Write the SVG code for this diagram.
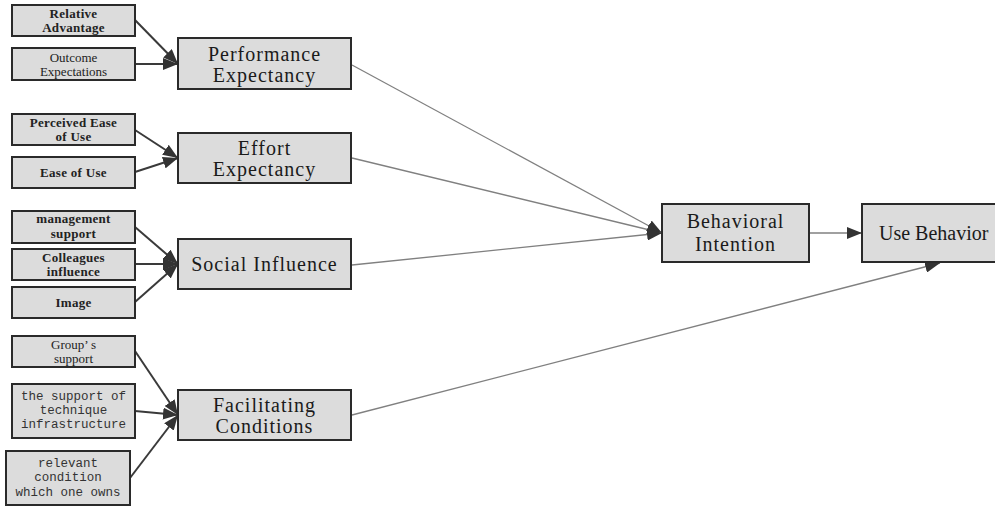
<svg xmlns="http://www.w3.org/2000/svg" width="995" height="506" viewBox="0 0 995 506">
<defs>
<marker id="ah" markerUnits="userSpaceOnUse" markerWidth="16" markerHeight="12" refX="15" refY="6" orient="auto">
<path d="M0,0 L15,6 L0,12 z" fill="#333"/>
</marker>
<style>
.box{fill:#dcdcdc;stroke:#2a2a2a;stroke-width:2}
.sm{font-family:"Liberation Serif",serif;font-size:13px;font-weight:bold;fill:#222;text-anchor:middle;letter-spacing:0.3px}
.smr{font-family:"Liberation Serif",serif;font-size:13px;fill:#222;text-anchor:middle}
.mono{font-family:"Liberation Mono",monospace;font-size:12.5px;fill:#333;text-anchor:middle}
.big{font-family:"Liberation Serif",serif;font-size:20px;fill:#1a1a1a;text-anchor:middle;letter-spacing:1px}
.in{stroke:#3a3a3a;stroke-width:2;fill:none}
.out{stroke:#808080;stroke-width:1.3;fill:none}
</style>
</defs>
<rect width="995" height="506" fill="#fff"/>
<g id="connectors">
<line class="in" x1="135" y1="20" x2="178" y2="64" marker-end="url(#ah)"/>
<line class="in" x1="135" y1="64" x2="178" y2="64" marker-end="url(#ah)"/>
<line class="in" x1="135" y1="130" x2="178" y2="158" marker-end="url(#ah)"/>
<line class="in" x1="135" y1="172" x2="178" y2="158" marker-end="url(#ah)"/>
<line class="in" x1="135" y1="227" x2="178" y2="264" marker-end="url(#ah)"/>
<line class="in" x1="135" y1="264" x2="178" y2="264" marker-end="url(#ah)"/>
<line class="in" x1="135" y1="302" x2="178" y2="264" marker-end="url(#ah)"/>
<line class="in" x1="135" y1="351" x2="178" y2="415" marker-end="url(#ah)"/>
<line class="in" x1="135" y1="411" x2="178" y2="415" marker-end="url(#ah)"/>
<line class="in" x1="130" y1="478" x2="178" y2="415" marker-end="url(#ah)"/>
<line class="out" x1="352" y1="65" x2="662" y2="233" marker-end="url(#ah)"/>
<line class="out" x1="352" y1="158" x2="662" y2="233" marker-end="url(#ah)"/>
<line class="out" x1="352" y1="265" x2="662" y2="233" marker-end="url(#ah)"/>
<line class="out" x1="352" y1="415" x2="940" y2="263" marker-end="url(#ah)"/>
<line class="out" x1="809" y1="233" x2="862" y2="233" stroke="#333" marker-end="url(#ah)"/>
</g>
<g id="relative-advantage"><rect class="box" x="12" y="5" width="123" height="31"/><text class="sm" x="73.5" y="18">Relative</text><text class="sm" x="73.5" y="32">Advantage</text></g>
<g id="outcome-expectations"><rect class="box" x="12" y="48" width="123" height="32"/><text class="smr" x="73.5" y="62">Outcome</text><text class="smr" x="73.5" y="76">Expectations</text></g>
<g id="performance-expectancy"><rect class="box" x="178" y="38" width="173" height="51"/><text class="big" x="264.5" y="61">Performance</text><text class="big" x="264.5" y="82">Expectancy</text></g>
<g id="perceived-ease"><rect class="box" x="12" y="114" width="123" height="31"/><text class="sm" x="73.5" y="127">Perceived Ease</text><text class="sm" x="73.5" y="141">of Use</text></g>
<g id="ease-of-use"><rect class="box" x="12" y="157" width="123" height="31"/><text class="sm" x="73.5" y="177">Ease of Use</text></g>
<g id="effort-expectancy"><rect class="box" x="178" y="133" width="173" height="50"/><text class="big" x="264.5" y="155">Effort</text><text class="big" x="264.5" y="176">Expectancy</text></g>
<g id="management-support"><rect class="box" x="12" y="211" width="123" height="32"/><text class="sm" x="73.5" y="223">management</text><text class="sm" x="73.5" y="238">support</text></g>
<g id="colleagues-influence"><rect class="box" x="12" y="249" width="123" height="31"/><text class="sm" x="73.5" y="262">Colleagues</text><text class="sm" x="73.5" y="276">influence</text></g>
<g id="image"><rect class="box" x="12" y="287" width="123" height="31"/><text class="sm" x="73.5" y="307">Image</text></g>
<g id="social-influence"><rect class="box" x="178" y="239" width="173" height="50"/><text class="big" x="264.5" y="271">Social Influence</text></g>
<g id="groups-support"><rect class="box" x="12" y="336" width="123" height="31"/><text class="smr" x="73.5" y="349">Group’ s</text><text class="smr" x="73.5" y="363">support</text></g>
<g id="technique-infrastructure"><rect class="box" x="12" y="384" width="123" height="54"/><text class="mono" x="73.5" y="400">the support of</text><text class="mono" x="73.5" y="414">technique</text><text class="mono" x="73.5" y="428">infrastructure</text></g>
<g id="relevant-condition"><rect class="box" x="6" y="451" width="124" height="54"/><text class="mono" x="68" y="467">relevant</text><text class="mono" x="68" y="481">condition</text><text class="mono" x="68" y="496">which one owns</text></g>
<g id="facilitating-conditions"><rect class="box" x="178" y="390" width="173" height="50"/><text class="big" x="264.5" y="412">Facilitating</text><text class="big" x="264.5" y="433">Conditions</text></g>
<g id="behavioral-intention"><rect class="box" x="662" y="204" width="147" height="58"/><text class="big" x="735.5" y="228">Behavioral</text><text class="big" x="735.5" y="251">Intention</text></g>
<g id="use-behavior"><rect class="box" x="862" y="204" width="150" height="58"/><text x="879" y="240" style="font-family:'Liberation Serif',serif;font-size:20px;fill:#1a1a1a">Use Behavior</text></g>
</svg>
